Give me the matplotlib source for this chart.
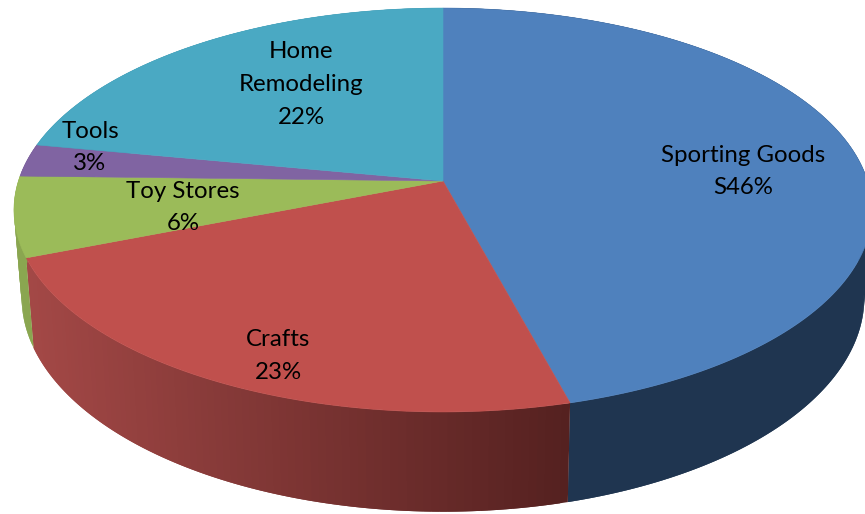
import numpy as np
from matplotlib import pyplot as plt

# slices, clockwise from 12 o'clock
categories = ['Sporting Goods', 'Crafts', 'Toy Stores', 'Tools', 'Home\nRemodeling']
shares = [45.85, 23.15, 6.4, 2.6, 22]
share_labels = ['S46%', '23%', '6%', '3%', '22%']
top_colors = ['#4f81bd', '#c0504d', '#9bbb59', '#8064a2', '#4aa9c3']
wall_left = ['#1f3550', '#a34846', '#8aa650', '#6a5288', '#3b8ba0']
wall_right = ['#1f3550', '#552120', '#8aa650', '#6a5288', '#3b8ba0']
label_x = [743, 278, 183, 90, 301]
label_y = [155, 340, 191, 131, 52]

# perspective of the disc, top face and bottom face, in pixels
CX = 443
TILT = 0.1436
TOP = dict(cy=181, a=197.8, b=424.6)
BOTTOM = dict(cy=266.5, a=210.0, b=417.0)


def project(theta, face):
    x = np.sin(theta)
    y = np.cos(theta)
    den = 1 + TILT * y
    return CX + face['b'] * x / den, face['cy'] - face['a'] * y / den


def hex_rgb(h):
    return np.array([int(h[i:i + 2], 16) / 255 for i in (1, 3, 5)])


fig = plt.figure(figsize=(8.65, 5.14), dpi=100)
ax = fig.add_axes([0, 0, 1, 1])
ax.set_xlim(0, 865)
ax.set_ylim(514, 0)
ax.axis('off')

edges = np.cumsum([0] + shares) / sum(shares) * 2 * np.pi

# side walls, each strip overlaps the next so no seams show
for i in range(len(shares)):
    n = max(int((edges[i + 1] - edges[i]) * 60), 2)
    th = np.linspace(edges[i], edges[i + 1], n + 1)
    tx, ty = project(th, TOP)
    bx, by = project(th, BOTTOM)
    left, right = hex_rgb(wall_left[i]), hex_rgb(wall_right[i])
    for k in range(n):
        stop = min(k + 2, n)
        t = np.clip((tx[k] - 30) / 540, 0, 1)
        seg = np.arange(k, stop + 1)
        ax.fill(np.r_[tx[seg], bx[seg][::-1]], np.r_[ty[seg], by[seg][::-1]],
                color=left + (right - left) * t, lw=0, zorder=1 + (np.cos(th[k]) < 0))

# top faces
for i in range(len(shares)):
    th = np.linspace(edges[i], edges[i + 1], 200)
    x, y = project(th, TOP)
    ax.fill(np.r_[CX, x], np.r_[TOP['cy'], y], color=top_colors[i], lw=0.4, zorder=3)

for name, pct, x, y in zip(categories, share_labels, label_x, label_y):
    lines = name.split('\n') + [pct]
    for j, line in enumerate(lines):
        ax.text(x, y + j * 32.5, line, ha='center', va='center', fontsize=17.3,
                family='Lato', color='#000000', zorder=4)

plt.savefig('out.png', dpi=100)
plt.close()
